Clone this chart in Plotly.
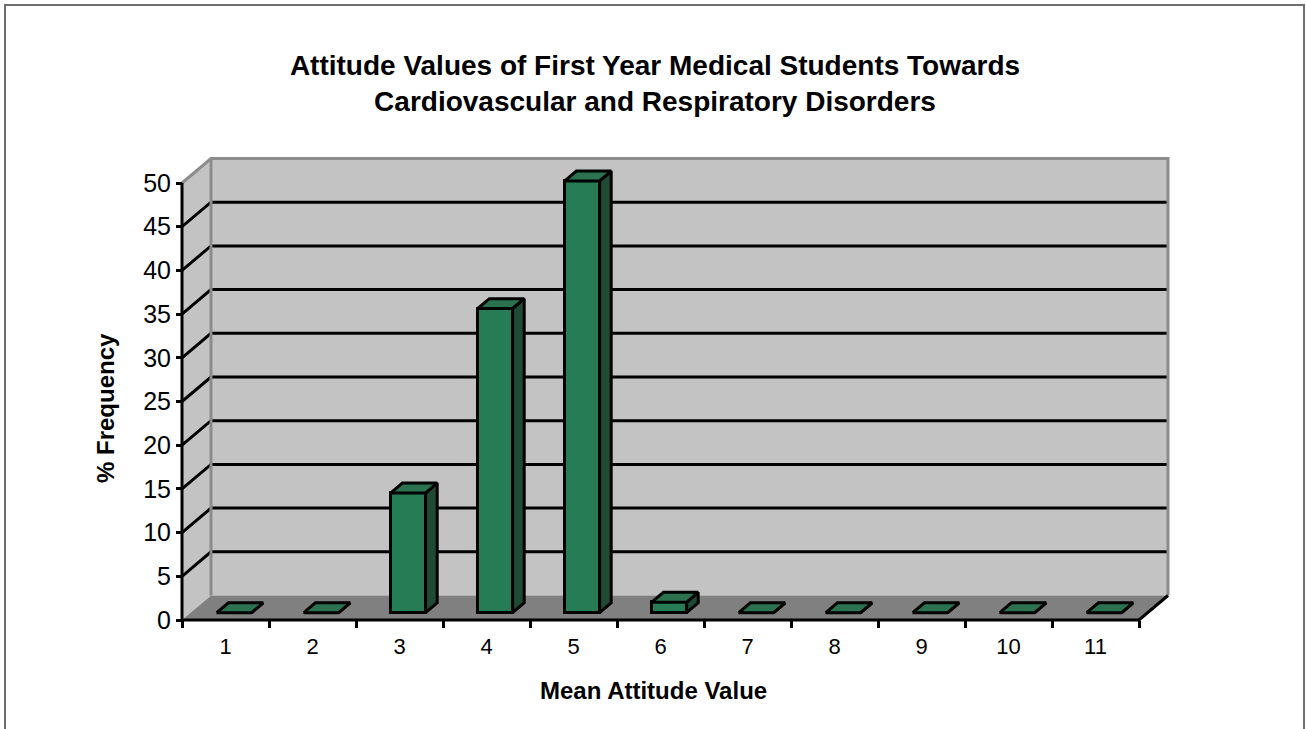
import plotly.graph_objects as go

# ---------------- data ----------------
categories = [1, 2, 3, 4, 5, 6, 7, 8, 9, 10, 11]
cat_labels = ["1", "2", "3", "4", "5", "6", "7", "8", "9", "10", "11"]
freq = [0, 0, 13.7, 34.8, 49.4, 1.2, 0, 0, 0, 0, 0]
y_ticks = [0, 5, 10, 15, 20, 25, 30, 35, 40, 45, 50]

title_lines = ["Attitude Values of First Year Medical Students Towards",
               "Cardiovascular and Respiratory Disorders"]
x_title = "Mean Attitude Value"
y_title = "% Frequency"

# ---------------- layout constants (pixels) ----------------
W, H = 1306, 729
PLOT_L, PLOT_R, PLOT_T, PLOT_B = 170, 1180, 140, 630
AX_X0_PX = 182      # pixel column of the front-left corner
AX_Y0_PX = 620      # pixel row of value 0 on the front edge
CAT_PX = 87.0       # pixels per category
VAL_PX = 8.74       # pixels per value unit
DEPTH_PX = (29.0, 24.5)
BAR_W = 0.4
D_FRONT, D_BACK = 0.3, 0.7

DX = DEPTH_PX[0] / CAT_PX
DY = DEPTH_PX[1] / VAL_PX
X0 = categories[0] - 0.5
X1 = categories[-1] + 0.5
YMAX = y_ticks[-1]

xr = [X0 + (PLOT_L - AX_X0_PX) / CAT_PX, X0 + (PLOT_R - AX_X0_PX) / CAT_PX]
yr = [(AX_Y0_PX - PLOT_B) / VAL_PX, (AX_Y0_PX - PLOT_T) / VAL_PX]


def px2paper(px, py):
    return ((px - PLOT_L) / (PLOT_R - PLOT_L), (PLOT_B - py) / (PLOT_B - PLOT_T))


def path(pts, close=False):
    s = "M " + " L ".join(f"{x},{y}" for x, y in pts)
    return s + (" Z" if close else "")


WALL = "#c3c3c3"
FLOOR = "#808080"
EDGE_GRAY = "#8c8c8c"
FRONT = "#267d55"
TOP = "#2b7350"
SIDE = "#1f4a34"

shapes = []
# back wall
shapes.append(dict(type="path", xref="x", yref="y", layer="below",
                   path=path([(X0 + DX, DY), (X1 + DX, DY), (X1 + DX, YMAX + DY), (X0 + DX, YMAX + DY)], True),
                   fillcolor=WALL, line=dict(width=0)))
# side wall
shapes.append(dict(type="path", xref="x", yref="y", layer="below",
                   path=path([(X0, 0), (X0, YMAX), (X0 + DX, YMAX + DY), (X0 + DX, DY)], True),
                   fillcolor=WALL, line=dict(width=0)))
# floor
shapes.append(dict(type="path", xref="x", yref="y", layer="below",
                   path=path([(X0, 0), (X1, 0), (X1 + DX, DY), (X0 + DX, DY)], True),
                   fillcolor=FLOOR, line=dict(width=0)))
# gridlines on side + back wall
for v in y_ticks[1:-1]:
    shapes.append(dict(type="path", xref="x", yref="y", layer="below",
                       path=path([(X0, v), (X0 + DX, v + DY), (X1 + DX, v + DY)]),
                       line=dict(color="black", width=3)))
# gray wall edges
shapes.append(dict(type="path", xref="x", yref="y", layer="below",
                   path=path([(X0, YMAX), (X0 + DX, YMAX + DY), (X1 + DX, YMAX + DY), (X1 + DX, DY)]),
                   line=dict(color=EDGE_GRAY, width=3)))
shapes.append(dict(type="path", xref="x", yref="y", layer="below",
                   path=path([(X0 + DX, YMAX + DY), (X0 + DX, DY)]),
                   line=dict(color=EDGE_GRAY, width=3)))
# black front axis + floor edges
shapes.append(dict(type="path", xref="x", yref="y", layer="below",
                   path=path([(X0, YMAX), (X0, 0), (X1, 0), (X1 + DX, DY)]),
                   line=dict(color="black", width=3)))

# outer frame
fl = px2paper(5, H + 10)
ft = px2paper(5, 5)
fr = px2paper(W - 2, 5)
fb = px2paper(W - 2, H + 10)
shapes.append(dict(type="path", xref="paper", yref="paper", layer="above",
                   path=path([fl, ft, fr, fb]), line=dict(color="#6e6e6e", width=2)))

# ---------------- bars ----------------
fig = go.Figure()
fig.add_trace(go.Bar(
    x=[c + D_FRONT * DX for c in categories],
    y=freq,
    base=D_FRONT * DY,
    width=BAR_W,
    marker=dict(color=FRONT, line=dict(color="black", width=3)),
    hoverinfo="skip", showlegend=False,
))

side_x, side_y, top_x, top_y = [], [], [], []
for c, v in zip(categories, freq):
    xl = c - BAR_W / 2
    xrgt = c + BAR_W / 2
    pts_side = [(xrgt + D_FRONT * DX, D_FRONT * DY), (xrgt + D_BACK * DX, D_BACK * DY),
                (xrgt + D_BACK * DX, v + D_BACK * DY), (xrgt + D_FRONT * DX, v + D_FRONT * DY)]
    pts_top = [(xl + D_FRONT * DX, v + D_FRONT * DY), (xrgt + D_FRONT * DX, v + D_FRONT * DY),
               (xrgt + D_BACK * DX, v + D_BACK * DY), (xl + D_BACK * DX, v + D_BACK * DY)]
    for p in pts_side + [pts_side[0]]:
        side_x.append(p[0]); side_y.append(p[1])
    side_x.append(None); side_y.append(None)
    for p in pts_top + [pts_top[0]]:
        top_x.append(p[0]); top_y.append(p[1])
    top_x.append(None); top_y.append(None)

fig.add_trace(go.Scatter(x=side_x, y=side_y, mode="lines", fill="toself", fillcolor=SIDE,
                         line=dict(color="black", width=3), hoverinfo="skip", showlegend=False))
fig.add_trace(go.Scatter(x=top_x, y=top_y, mode="lines", fill="toself", fillcolor=TOP,
                         line=dict(color="black", width=3), hoverinfo="skip", showlegend=False))

TICK_FONT = "Liberation Sans, Arial, sans-serif"

fig.update_layout(
    width=W, height=H, autosize=False,
    margin=dict(l=PLOT_L, r=W - PLOT_R, t=PLOT_T, b=H - PLOT_B, pad=0),
    paper_bgcolor="white", plot_bgcolor="rgba(0,0,0,0)",
    shapes=shapes,
    title=dict(text="<b>" + "<br>".join(title_lines) + "</b>",
               x=655 / W, xref="container", xanchor="center",
               y=1 - 75 / H, yref="container", yanchor="middle",
               font=dict(family="Liberation Sans, Arial, sans-serif", size=28, color="black")),
    xaxis=dict(range=xr, anchor="free", position=px2paper(0, AX_Y0_PX)[1],
               tickmode="array", tickvals=categories, ticktext=cat_labels,
               ticks="outside", ticklen=7, tickcolor="rgba(0,0,0,0)",
               minor=dict(tickmode="array", tickvals=[c - 0.5 for c in categories] + [X1],
                          ticks="outside", ticklen=7, tickwidth=3, tickcolor="black"),
               showgrid=False, zeroline=False, showline=False, automargin=False,
               tickfont=dict(family=TICK_FONT, size=22, color="black")),
    yaxis=dict(range=yr, anchor="free", position=px2paper(AX_X0_PX, 0)[0],
               tickmode="array", tickvals=y_ticks,
               ticks="outside", ticklen=6, tickwidth=3, tickcolor="black",
               showgrid=False, zeroline=False, showline=False, automargin=False,
               tickfont=dict(family=TICK_FONT, size=25, color="black")),
    annotations=[
        dict(text="<b>" + x_title + "</b>", xref="paper", yref="paper",
             x=px2paper(653, 0)[0], y=px2paper(0, 690)[1], xanchor="center", yanchor="middle",
             showarrow=False, font=dict(family=TICK_FONT, size=24, color="black")),
        dict(text="<b>" + y_title + "</b>", xref="paper", yref="paper", textangle=-90,
             x=px2paper(105, 0)[0], y=px2paper(0, 408)[1], xanchor="center", yanchor="middle",
             showarrow=False, font=dict(family=TICK_FONT, size=24, color="black")),
    ],
    bargap=0,
)

fig.write_html("out.html", config={"displayModeBar": False},
               post_script="document.body.style.margin='0';document.body.style.overflow='hidden';")
